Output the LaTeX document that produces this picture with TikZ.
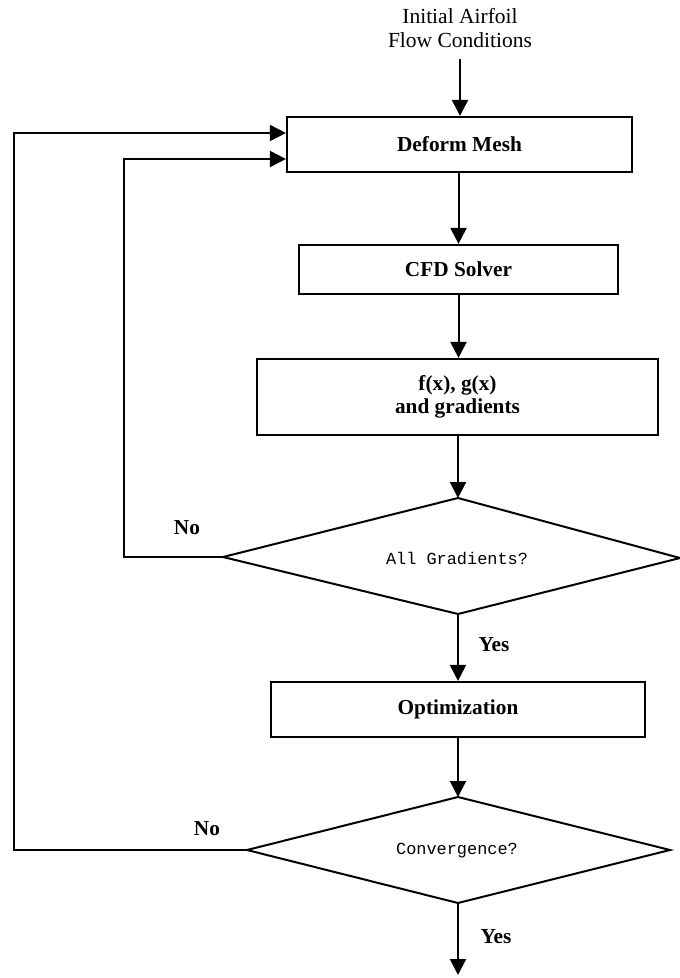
\documentclass[tikz,border=0pt]{standalone}
\usepackage{fontspec}
\setmainfont{Liberation Serif}
\setmonofont{Liberation Mono}
\usetikzlibrary{arrows.meta}
\tikzset{
  boxnode/.style={draw, line width=2.2pt, inner sep=0pt, align=center,
    font=\bfseries\fontsize{21.3}{23}\selectfont},
  lbl/.style={font=\bfseries\fontsize{21.3}{23}\selectfont, inner sep=0pt},
  qtext/.style={font=\ttfamily\fontsize{16.9}{20}\selectfont, inner sep=0pt},
  flow/.style={line width=2pt, -{Triangle[width=16pt,length=16pt]}},
  dia/.style={line width=2pt, line join=miter}
}
\begin{document}
\begin{tikzpicture}[x=1pt,y=-1pt]
\useasboundingbox (0,0) rectangle (680,978);
% top text
\node[align=center, inner sep=0pt, font=\fontsize{21.5}{23.5}\selectfont] (init) at (460,28) {Initial Airfoil\\Flow Conditions};
\coordinate (start) at (460,59);
% boxes
\node[boxnode, minimum width=345pt, minimum height=55pt] (deform) at (459.5,144.5) {Deform Mesh};
\node[boxnode, minimum width=319pt, minimum height=49pt] (cfd) at (458.5,269.5) {CFD Solver};
\node[boxnode, minimum width=401pt, minimum height=76pt] (fg) at (457.5,397) {f(x), g(x)\\and gradients};
\node[boxnode, minimum width=374pt, minimum height=55pt] (opt) at (458,709.5) {Optimization};
% diamond 1
\coordinate (d1t) at (458,498);
\coordinate (d1r) at (680,558);
\coordinate (d1b) at (458,614);
\coordinate (d1l) at (223,557);
\draw[dia] (d1t) -- (d1r) -- (d1b) -- (d1l) -- cycle;
\node[qtext] (q1) at (457,558) {All Gradients?};
% diamond 2
\coordinate (d2t) at (458,797);
\coordinate (d2r) at (670,850);
\coordinate (d2b) at (458,903);
\coordinate (d2l) at (247,850);
\draw[dia] (d2t) -- (d2r) -- (d2b) -- (d2l) -- cycle;
\node[qtext] (q2) at (457,851) {Convergence?};
\coordinate (finish) at (458,975);
% main flow
\draw[flow] (start) -- (deform.north -| start);
\draw[flow] (deform.south -| cfd.north) -- (cfd.north);
\draw[flow] (cfd.south) -- (cfd.south |- fg.north);
\draw[flow] (fg.south -| d1t) -- (d1t);
\draw[flow] (d1b) -- (d1b |- opt.north);
\draw[flow] (opt.south -| d2t) -- (d2t);
\draw[flow] (d2b) -- (finish);
% feedback
\draw[flow] (d1l) -- ++(-99,0) |- ([yshift=-14.5pt]deform.west);
\draw[flow] (d2l) -- ++(-233,0) |- ([yshift=11.5pt]deform.west);
% labels
\node[lbl] (no1) at (187,528) {No};
\node[lbl] (no2) at (207,829) {No};
\node[lbl] (yes1) at (494,645) {Yes};
\node[lbl] (yes2) at (496,937) {Yes};
\end{tikzpicture}
\end{document}
